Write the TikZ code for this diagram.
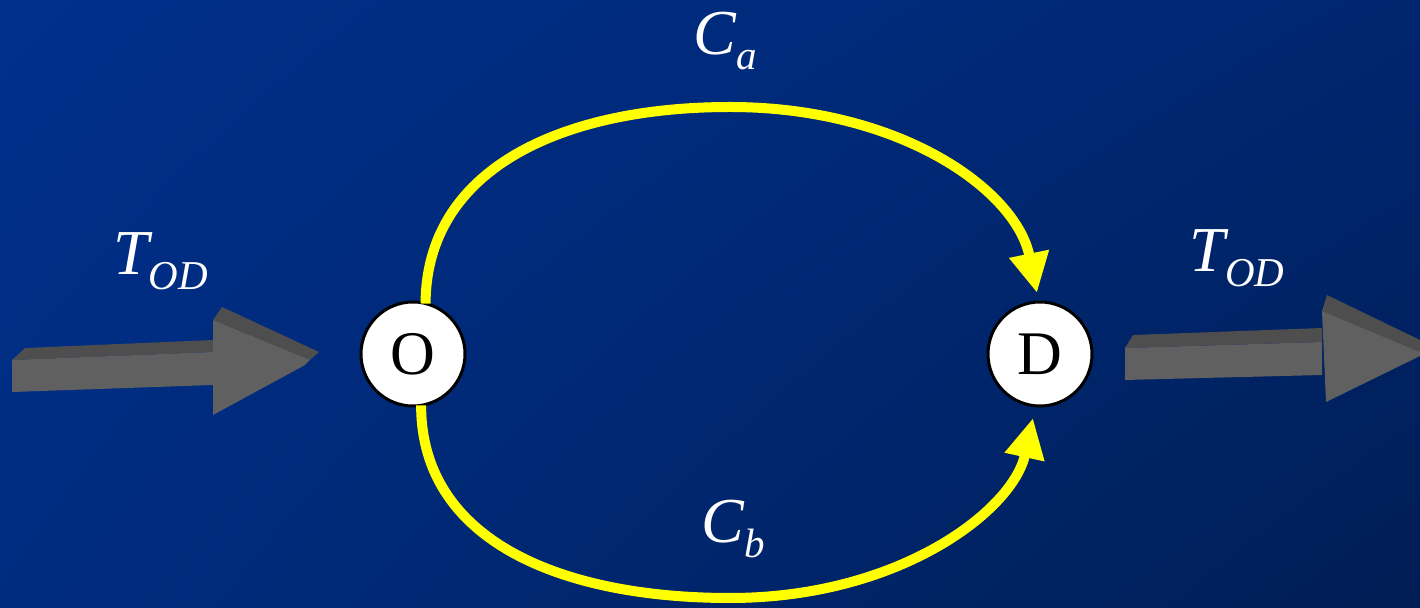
\documentclass[tikz,border=0pt]{standalone}
\usepackage{fontspec}
\setmainfont{Liberation Serif}
\usetikzlibrary{arrows.meta,shadings}
\definecolor{bgUL}{RGB}{0,48,140}
\definecolor{bgUR}{RGB}{0,38,112}
\definecolor{bgLL}{RGB}{0,44,128}
\definecolor{bgLR}{RGB}{0,30,85}
\definecolor{armfront}{RGB}{96,96,96}
\definecolor{armtop}{RGB}{78,78,78}
\definecolor{pathyellow}{RGB}{255,255,0}
\tikzset{
  place/.style={circle, draw=black, line width=1.5pt, fill=white, minimum size=52pt, inner sep=0pt, outer sep=0pt, font=\fontsize{31}{36}\selectfont},
  route/.style={draw=pathyellow, line width=5pt, -{Triangle[length=20pt,width=19pt]}},
  lbl/.style={anchor=base west, text=white, inner sep=0pt, font=\fontsize{32}{38}\selectfont\itshape},
  front/.style={fill=armfront},
  topface/.style={fill=armtop}
}
\newcommand{\sublbl}[1]{\raisebox{-7.5pt}{\fontsize{20.5}{24}\selectfont\itshape #1}}
\begin{document}
\begin{tikzpicture}[x=0.5pt,y=-0.5pt]
\useasboundingbox (0,0) rectangle (1420,608);
\shade[upper left=bgUL, upper right=bgUR, lower left=bgLL, lower right=bgLR] (0,0) rectangle (1420,608);
% left 3D arrow
\fill[topface] (12,360) -- (25,348) -- (213,340) -- (213,352) -- cycle;
\fill[front] (12,360) -- (213,352) -- (213,385) -- (12,392) -- cycle;
\fill[topface] (213,320) -- (222,307) -- (319,352) -- (310,360) -- cycle;
\fill[front] (213,320) -- (310,360) -- (305,365) -- (213,415) -- cycle;
% right 3D arrow
\fill[topface] (1125,348) -- (1133,335) -- (1322,328) -- (1322,342) -- cycle;
\fill[front] (1125,348) -- (1322,342) -- (1322,375) -- (1125,380) -- cycle;
\fill[topface] (1322,311) -- (1327,295) -- (1420,340) -- (1420,352) -- cycle;
\fill[front] (1322,311) -- (1420,352) -- (1420,356) -- (1326,402) -- cycle;
% nodes
\node[place] (O) at (413,354) {O};
\node[place] (D) at (1040,354) {D};
% routes
\draw[route] (O.76) .. controls (426,170) and (560,107) .. (730,107)
  .. controls (900,107) and (1016,190) .. ([xshift=-1.5pt,yshift=4.5pt]D.north);
\draw[route] (O.-81) .. controls (421,540) and (560,598) .. (730,598)
  .. controls (900,598) and (1013,510) .. ([xshift=-3.5pt,yshift=-6pt]D.south);
% labels
\node[lbl] (ca) at (693,55) {C\sublbl{a}};
\node[lbl] (cb) at (701,543) {C\sublbl{b}};
\node[lbl] (tin) at (113,275) {T\sublbl{OD}};
\node[lbl] (tout) at (1189,272) {T\sublbl{OD}};
\end{tikzpicture}
\end{document}
